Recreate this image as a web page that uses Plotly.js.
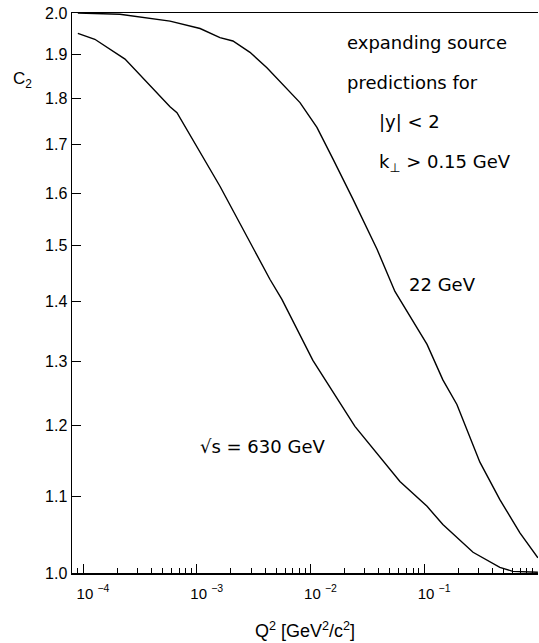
<!DOCTYPE html>
<html>
<head>
<meta charset="utf-8">
<script src="https://cdn.plot.ly/plotly-3.0.1.min.js"></script>
<style>html,body{margin:0;padding:0;background:#fff;}#chart{width:539px;height:643px;}</style>
</head>
<body>
<div id="chart"></div>
<script>
// sqrt(s) = 630 GeV curve
const q2_630 = [9.0e-5, 1.27e-4, 2.34e-4, 5.82e-4, 6.70e-4, 1.60e-3, 4.41e-3, 5.61e-3, 1.05e-2, 2.46e-2, 6.12e-2, 0.106, 0.146, 0.269, 0.463, 0.603, 1.0];
const c2_630 = [1.950, 1.936, 1.889, 1.781, 1.768, 1.614, 1.438, 1.403, 1.301, 1.199, 1.120, 1.086, 1.062, 1.026, 1.007, 1.002, 1.001];

// 22 GeV curve
const q2_22 = [9.0e-5, 2.11e-4, 5.82e-4, 1.07e-3, 1.60e-3, 2.08e-3, 2.94e-3, 4.14e-3, 8.09e-3, 1.14e-2, 1.58e-2, 2.37e-2, 3.85e-2, 5.53e-2, 0.106, 0.146, 0.194, 0.309, 0.463, 0.695, 1.0];
const c2_22 = [2.000, 1.997, 1.980, 1.962, 1.940, 1.932, 1.905, 1.869, 1.790, 1.736, 1.669, 1.588, 1.493, 1.417, 1.327, 1.270, 1.232, 1.147, 1.095, 1.051, 1.019];

const yTickVals = [1.0, 1.1, 1.2, 1.3, 1.4, 1.5, 1.6, 1.7, 1.8, 1.9, 2.0];
const yTickText = ["1.0", "1.1", "1.2", "1.3", "1.4", "1.5", "1.6", "1.7", "1.8", "1.9", "2.0"];
const xTickVals = [1e-4, 1e-3, 1e-2, 1e-1, 1];
const xTickText = ["10 <sup>−4</sup>", "10 <sup>−3</sup>", "10 <sup>−2</sup>", "10 <sup>−1</sup>", "1"];

const lineStyle = {color: "#000", width: 1.4};
const traces = [
  {x: q2_630, y: c2_630, mode: "lines", line: lineStyle, hoverinfo: "skip", showlegend: false},
  {x: q2_22, y: c2_22, mode: "lines", line: lineStyle, hoverinfo: "skip", showlegend: false}
];

const txtFont = {family: "DejaVu Sans", size: 18, color: "#000"};
const ann = (text, x, y) => ({text: text, x: x, y: y, xref: "paper", yref: "paper", xanchor: "left", yanchor: "middle", showarrow: false, font: txtFont});

const layout = {
  width: 539, height: 643,
  margin: {l: 72, r: 1, t: 13, b: 70},
  paper_bgcolor: "#fff", plot_bgcolor: "#fff",
  font: {family: "Liberation Sans, Arial, sans-serif", color: "#000"},
  xaxis: {
    type: "log", range: [-4.097, 0.001],
    tickvals: xTickVals, ticktext: xTickText,
    ticks: "inside", ticklen: 9, tickwidth: 1, tickcolor: "#000",
    minor: {ticks: "inside", ticklen: 5, tickwidth: 1, tickcolor: "#000", dtick: "D1", showgrid: false},
    showline: true, linecolor: "#000", linewidth: 1.5, mirror: true,
    showgrid: false, zeroline: false,
    tickfont: {size: 15, family: "Liberation Sans, Arial, sans-serif"},
    ticklabelshift: 10, ticklabelstandoff: 6,
    title: {text: "Q<sup>2</sup> [GeV<sup>2</sup>/c<sup>2</sup>]", font: {size: 18, family: "Liberation Sans, Arial, sans-serif"}, standoff: 24},
    automargin: false
  },
  yaxis: {
    type: "log", range: [0, Math.log10(2)],
    tickvals: yTickVals, ticktext: yTickText,
    ticks: "inside", ticklen: 9, tickwidth: 1, tickcolor: "#000",
    showline: true, linecolor: "#000", linewidth: 1.5, mirror: false,
    showgrid: false, zeroline: false,
    tickfont: {size: 16, family: "Liberation Sans, Arial, sans-serif"},
    automargin: false
  },
  annotations: [
    ann("expanding source", 0.586, 0.947),
    ann("predictions for", 0.586, 0.876),
    ann("|y| < 2", 0.6545, 0.806),
    ann("k<sub>⊥</sub> > 0.15 GeV", 0.6545, 0.733),
    ann("22 GeV", 0.719, 0.515),
    ann("√s = 630 GeV", 0.270, 0.226),
    {text: "C<sub>2</sub>", x: -0.131, y: 0.881, xref: "paper", yref: "paper", xanchor: "left", yanchor: "middle", showarrow: false, font: {family: "Liberation Sans, Arial, sans-serif", size: 17, color: "#000"}}
  ]
};

Plotly.newPlot("chart", traces, layout, {staticPlot: true, displayModeBar: false});
</script>
</body>
</html>
